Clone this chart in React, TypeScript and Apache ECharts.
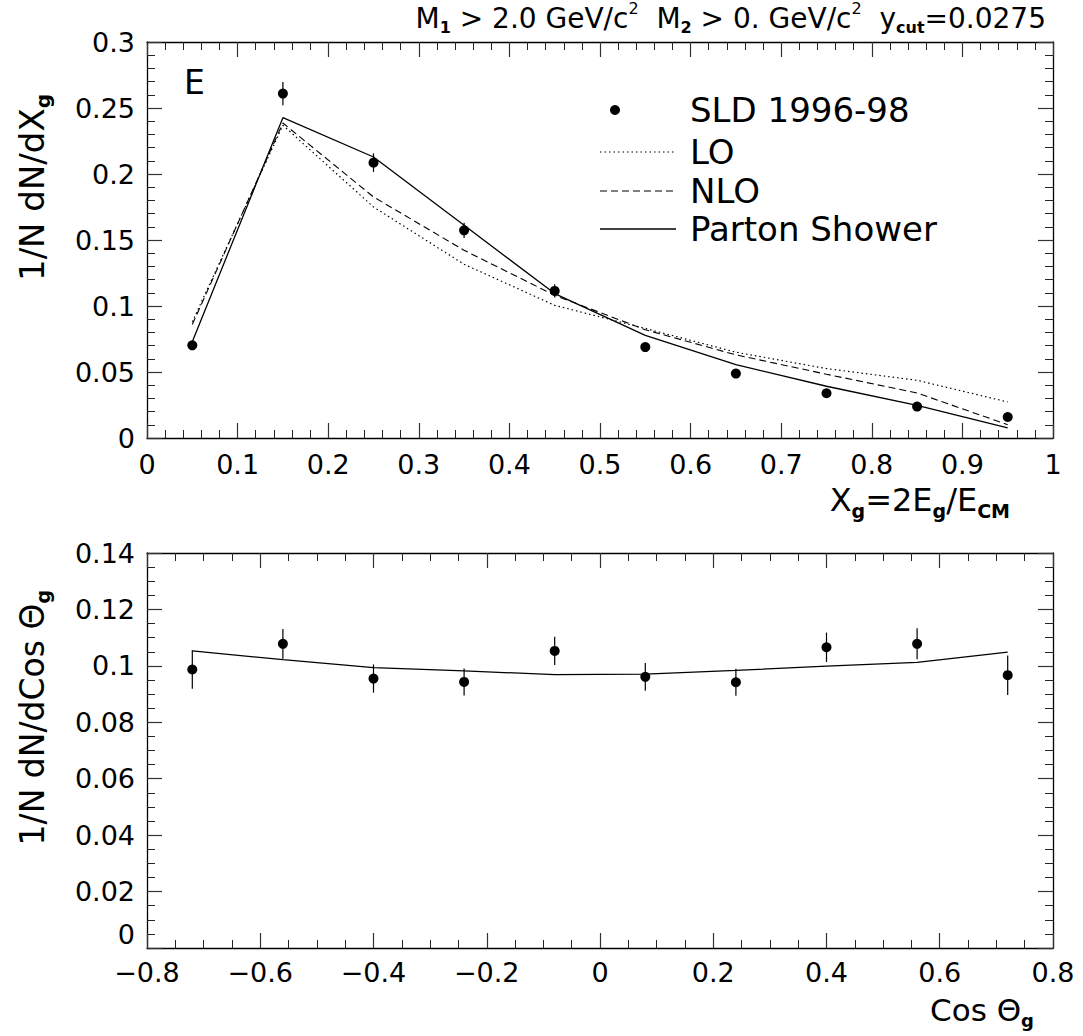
import React, { useEffect, useRef } from "react";
import * as echarts from "echarts";

// ---------- data (top panel: X_g distribution) ----------
const xgBins = [0.05, 0.15, 0.25, 0.35, 0.45, 0.55, 0.65, 0.75, 0.85, 0.95];
const sldXg = [0.0702, 0.2609, 0.2086, 0.1573, 0.1114, 0.0689, 0.0488, 0.0339, 0.0238, 0.0159];
const sldXgErr = [0.003, 0.0088, 0.007, 0.0057, 0.005, 0.003, 0.002, 0.0015, 0.0015, 0.0015];
const loXg = [0.088, 0.2369, 0.175, 0.1316, 0.1005, 0.083, 0.065, 0.0526, 0.0437, 0.0273];
const nloXg = [0.086, 0.2386, 0.1826, 0.1422, 0.1081, 0.082, 0.063, 0.0483, 0.0341, 0.0101];
const psXg = [0.073, 0.2427, 0.2129, 0.1611, 0.1094, 0.0778, 0.0556, 0.0392, 0.0248, 0.0076];

// ---------- data (bottom panel: cos theta_g) ----------
const cosBins = [-0.72, -0.56, -0.4, -0.24, -0.08, 0.08, 0.24, 0.4, 0.56, 0.72];
const sldCos = [0.0987, 0.1078, 0.0955, 0.0943, 0.1053, 0.0961, 0.0942, 0.1066, 0.1078, 0.0967];
const sldCosErr = [0.0068, 0.0053, 0.005, 0.0048, 0.005, 0.0049, 0.0048, 0.0052, 0.0055, 0.007];
const psCos = [0.1053, 0.1022, 0.0994, 0.0982, 0.0969, 0.0971, 0.0984, 0.0999, 0.1012, 0.1049];

// ---------- text ----------
const titleText = "M{sub|1} > 2.0 GeV/c{sup|2}  M{sub|2} > 0. GeV/c{sup|2}  y{sub|cut}=0.0275";
const panelLabel = "E";
const legendLabels = ["SLD 1996-98", "LO", "NLO", "Parton Shower"];
const yTitleTop = "1/N dN/dX{sub|g}";
const xTitleTop = "X{sub|g}=2E{sub|g}/E{sub|CM}";
const yTitleBottom = "1/N dN/dCos Θ{sub|g}";
const xTitleBottom = "Cos Θ{sub|g}";

const FONT = "DejaVu Sans";

const pairs = (xs: number[], ys: number[]) => xs.map((x, i) => [x, ys[i]]);
const triples = (xs: number[], ys: number[], es: number[]) => xs.map((x, i) => [x, ys[i], es[i]]);

const richFor = (size: number) => ({
  n: { fontSize: size, fontFamily: FONT, color: "#000", lineHeight: size * 1.25 },
  sub: { fontSize: Math.round(size * 0.58), fontFamily: FONT, fontWeight: "bold", color: "#000", verticalAlign: "bottom", lineHeight: Math.round(size * 0.58) },
  sup: { fontSize: Math.round(size * 0.58), fontFamily: FONT, color: "#000", verticalAlign: "top", lineHeight: Math.round(size * 0.58) },
});

const wrapN = (s: string) => {
  const parts: string[] = [];
  const re = /\{(sub|sup)\|([^}]*)\}/g;
  let last = 0;
  let m: RegExpExecArray | null;
  while ((m = re.exec(s)) !== null) {
    if (m.index > last) parts.push("{n|" + s.slice(last, m.index) + "}");
    parts.push(m[0]);
    last = m.index + m[0].length;
  }
  if (last < s.length) parts.push("{n|" + s.slice(last) + "}");
  return parts.join("");
};

function richText(text: string, size: number, x: number, y: number, align: string, rotation = 0) {
  return {
    type: "text",
    x,
    y,
    rotation,
    silent: true,
    style: {
      text: wrapN(text),
      rich: richFor(size),
      fontSize: size,
      fontFamily: FONT,
      fill: "#000",
      align,
      textAlign: align,
      verticalAlign: "middle",
      textVerticalAlign: "middle",
    },
  };
}

const errRender = (params: any, api: any) => {
  const x = api.value(0);
  const y = api.value(1);
  const e = api.value(2);
  const p1 = api.coord([x, y - e]);
  const p2 = api.coord([x, y + e]);
  return {
    type: "line",
    shape: { x1: p1[0], y1: p1[1], x2: p2[0], y2: p2[1] },
    style: { stroke: "#000", lineWidth: 1.2 },
  };
};

const LABEL_SIZE = 27;

function axisCommon(splitNumber: number, showLabel: boolean, extra: any = {}) {
  return {
    axisLine: { show: true, onZero: false, lineStyle: { color: "#000", width: 1.3 } },
    axisTick: { show: true, inside: true, length: 15, lineStyle: { color: "#333", width: 1.2 } },
    minorTick: { show: true, splitNumber, length: 8, lineStyle: { color: "#222", width: 1 } },
    splitLine: { show: false },
    minorSplitLine: { show: false },
    axisLabel: {
      show: showLabel,
      color: "#000",
      fontFamily: FONT,
      fontSize: LABEL_SIZE,
      ...(extra.axisLabel || {}),
    },
  };
}

const minusFmt = (v: number) => {
  if (Math.abs(v) < 1e-9) return "0";
  const s = Math.abs(v).toFixed(1);
  return v < 0 ? "\u2212" + s : s;
};

export default function App() {
  const ref = useRef<HTMLDivElement>(null);
  useEffect(() => {
    document.body.style.margin = "0";
    if (!ref.current) return;
    const chart = echarts.init(ref.current, null, { renderer: "svg" });

    const gTop = { left: 147, top: 42, width: 906, height: 396 };
    const gBot = { left: 147, top: 553, width: 906, height: 395 };

    const option: any = {
      animation: false,
      backgroundColor: "#fff",
      grid: [gTop, gBot],
      xAxis: [
        { type: "value", gridIndex: 0, position: "bottom", min: 0, max: 1, interval: 0.1, ...axisCommon(5, true, { axisLabel: { margin: 13 } }) },
        { type: "value", gridIndex: 0, position: "top", min: 0, max: 1, interval: 0.1, ...axisCommon(5, false) },
        { type: "value", gridIndex: 1, position: "bottom", min: -0.8, max: 0.8, interval: 0.2, ...axisCommon(4, true, { axisLabel: { margin: 11, formatter: minusFmt } }) },
        { type: "value", gridIndex: 1, position: "top", min: -0.8, max: 0.8, interval: 0.2, ...axisCommon(4, false) },
      ],
      yAxis: [
        { type: "value", gridIndex: 0, position: "left", min: 0, max: 0.3, interval: 0.05, ...axisCommon(5, true, { axisLabel: { margin: 12 } }) },
        { type: "value", gridIndex: 0, position: "right", min: 0, max: 0.3, interval: 0.05, ...axisCommon(5, false) },
        { type: "value", gridIndex: 1, position: "left", min: 0, max: 0.14, interval: 0.02, ...axisCommon(4, true, { axisLabel: { margin: 12, verticalAlignMinLabel: "bottom" } }) },
        { type: "value", gridIndex: 1, position: "right", min: 0, max: 0.14, interval: 0.02, ...axisCommon(4, false) },
      ],
      series: [
        {
          name: "LO", type: "line", xAxisIndex: 0, yAxisIndex: 0, data: pairs(xgBins, loXg), symbol: "none",
          lineStyle: { color: "#000", width: 1.2, type: [1.5, 3] }, z: 3,
        },
        {
          name: "NLO", type: "line", xAxisIndex: 0, yAxisIndex: 0, data: pairs(xgBins, nloXg), symbol: "none",
          lineStyle: { color: "#000", width: 1.1, type: [7, 4] }, z: 3,
        },
        {
          name: "Parton Shower", type: "line", xAxisIndex: 0, yAxisIndex: 0, data: pairs(xgBins, psXg), symbol: "none",
          lineStyle: { color: "#000", width: 1.3, type: "solid" }, z: 3,
        },
        {
          name: "SLD err", type: "custom", xAxisIndex: 0, yAxisIndex: 0, coordinateSystem: "cartesian2d",
          data: triples(xgBins, sldXg, sldXgErr), renderItem: errRender, encode: { x: 0, y: 1 }, z: 4,
        },
        {
          name: "SLD 1996-98", type: "scatter", xAxisIndex: 0, yAxisIndex: 0, data: pairs(xgBins, sldXg),
          symbol: "circle", symbolSize: 10, itemStyle: { color: "#000", opacity: 1 }, z: 5,
        },
        {
          name: "PS cos", type: "line", xAxisIndex: 2, yAxisIndex: 2, data: pairs(cosBins, psCos), symbol: "none",
          lineStyle: { color: "#000", width: 1.3, type: "solid" }, z: 3,
        },
        {
          name: "SLD cos err", type: "custom", xAxisIndex: 2, yAxisIndex: 2, coordinateSystem: "cartesian2d",
          data: triples(cosBins, sldCos, sldCosErr), renderItem: errRender, encode: { x: 0, y: 1 }, z: 4,
        },
        {
          name: "SLD cos", type: "scatter", xAxisIndex: 2, yAxisIndex: 2, data: pairs(cosBins, sldCos),
          symbol: "circle", symbolSize: 10, itemStyle: { color: "#000", opacity: 1 }, z: 5,
        },
      ],
      graphic: [
        richText(titleText, 28, 1046, 18, "right"),
        { type: "text", x: 184, y: 82, silent: true, style: { text: panelLabel, fontSize: 33, fontFamily: FONT, fill: "#000", align: "left", verticalAlign: "middle", textAlign: "left", textVerticalAlign: "middle" } },
        // legend
        { type: "circle", silent: true, shape: { cx: 615, cy: 110, r: 5 }, style: { fill: "#000" } },
        { type: "line", silent: true, shape: { x1: 600, y1: 152, x2: 676, y2: 152 }, style: { stroke: "#000", lineWidth: 1.2, lineDash: [1.5, 3] } },
        { type: "line", silent: true, shape: { x1: 600, y1: 191, x2: 676, y2: 191 }, style: { stroke: "#000", lineWidth: 1.1, lineDash: [7, 4] } },
        { type: "line", silent: true, shape: { x1: 600, y1: 229, x2: 676, y2: 229 }, style: { stroke: "#000", lineWidth: 1.3 } },
        ...legendLabels.map((t, i) => ({
          type: "text", x: 690, y: [110, 152, 191, 229][i], silent: true,
          style: { text: t, fontSize: 34, fontFamily: FONT, fill: "#000", align: "left", verticalAlign: "middle", textAlign: "left", textVerticalAlign: "middle" },
        })),
        // axis titles
        richText(yTitleTop, 34, 32, 94, "right", Math.PI / 2),
        richText(xTitleTop, 32, 1010, 500, "right"),
        richText(yTitleBottom, 33, 32, 590, "right", Math.PI / 2),
        richText(xTitleBottom, 31, 1034, 1010, "right"),
      ],
    };
    chart.setOption(option);
    return () => chart.dispose();
  }, []);
  return <div ref={ref} style={{ width: 1083, height: 1036 }} />;
}
